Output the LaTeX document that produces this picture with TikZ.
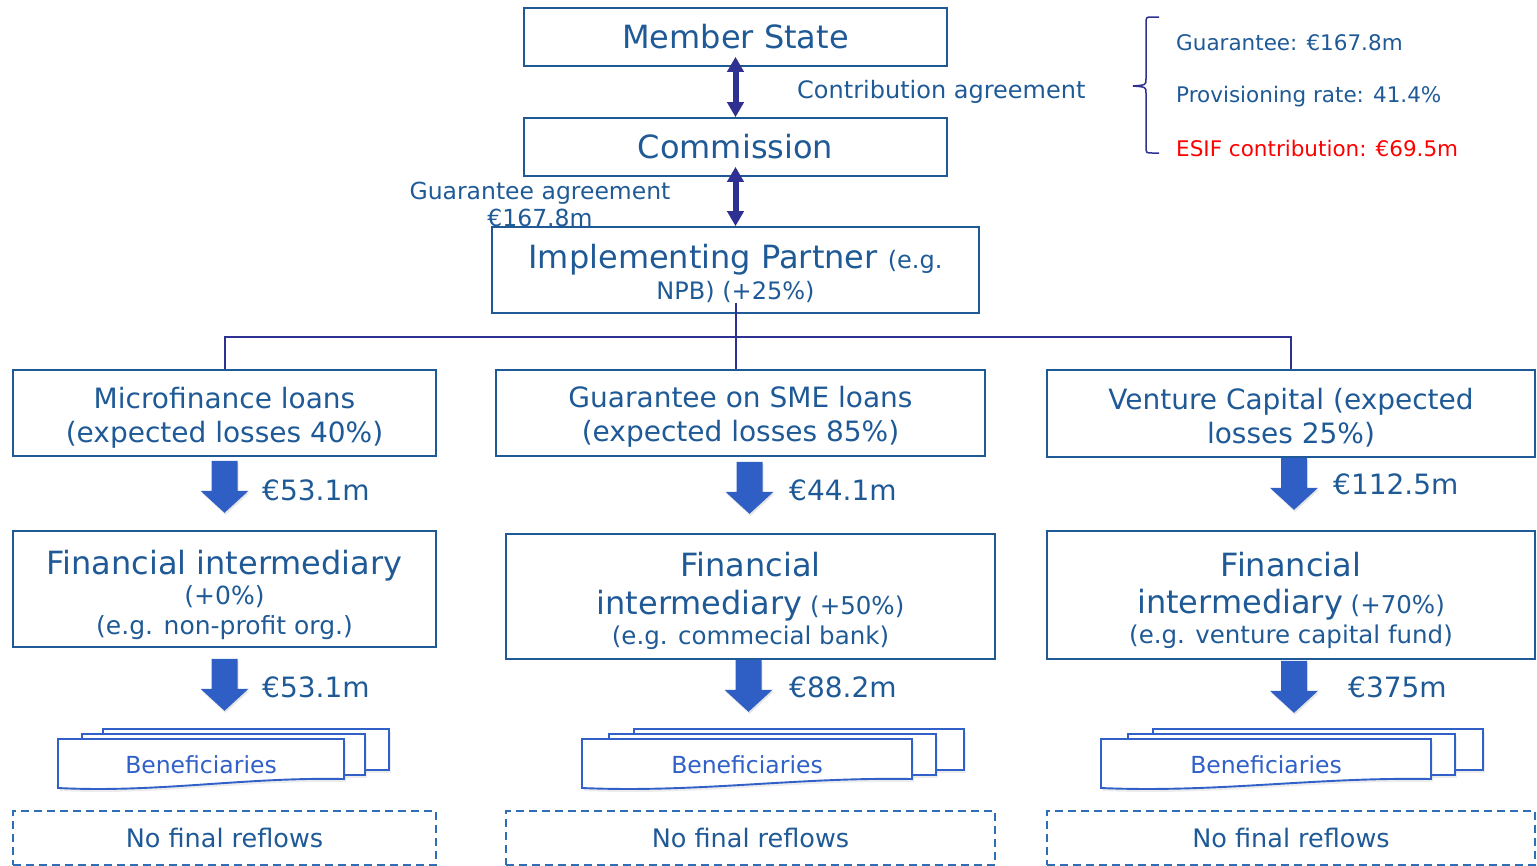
\documentclass[tikz,border=0pt]{standalone}
\usepackage{fontspec}
\setmainfont{DejaVu Sans}
\usetikzlibrary{arrows.meta,calc,shadows}

\definecolor{txtblue}{RGB}{31,90,150}
\definecolor{linkpurple}{RGB}{46,49,146}
\definecolor{flowblue}{RGB}{47,94,196}
\definecolor{docblue}{RGB}{48,96,200}
\definecolor{dashblue}{RGB}{46,110,180}

\newcommand{\fsz}[2]{\fontsize{#1}{#2}\selectfont}
\newcommand{\lift}[1]{\rule{0pt}{#1pt}}
\newcommand{\flowarrow}[1]{\fill[flowblue, drop shadow={opacity=0.2, shadow xshift=1pt, shadow yshift=-2pt}] (#1) -- ++(13,0) -- ++(0,30) -- ++(11,0) -- ++(-24,22) -- ++(-24,-22) -- ++(11,0) -- ++(0,-30) -- cycle;}
\newcommand{\docstack}[5]{%
\filldraw[docblue, fill=white, line width=1.9pt, drop shadow={opacity=0.15, shadow xshift=2pt, shadow yshift=-3pt}] (#1+#4,729) rectangle ++(#2,41);
\filldraw[docblue, fill=white, line width=1.9pt, drop shadow={opacity=0.15, shadow xshift=2pt, shadow yshift=-3pt}] (#1+#3,734) rectangle ++(#2-3,41);
\filldraw[docblue, fill=white, line width=1.9pt, drop shadow={opacity=0.15, shadow xshift=2pt, shadow yshift=-3pt}] (#1,739) -- (#1+#2,739) -- (#1+#2,779) .. controls (#1+0.65*#2,777) and (#1+0.35*#2,793) .. (#1,788) -- cycle;
\node[text=docblue, font=\fsz{23.5}{28}] (#5) at (#1+0.5*#2,765) {Beneficiaries};}

\begin{document}
\begin{tikzpicture}[x=1pt, y=-1pt, inner sep=0pt, text=txtblue,
  box/.style={draw=txtblue, line width=1.6pt, align=center},
  dbl/.style={linkpurple, line width=6pt, {Triangle[length=15pt,width=16pt]}-{Triangle[length=15pt,width=16pt]}},
  nofl/.style={draw=dashblue, line width=1.6pt, dash pattern=on 8pt off 5pt, minimum height=54pt, font=\fsz{25.5}{29}},
  amount/.style={anchor=west, font=\fsz{28}{32}}]
\useasboundingbox (0,0) rectangle (1537,865);

\node[box, minimum width=423pt, minimum height=58pt, font=\fsz{32}{38}] (ms) at (735.5,37) {Member State};
\node[box, minimum width=423pt, minimum height=58pt, font=\fsz{32}{38}] (com) at (735.5,147) {Commission};
\node[box, minimum width=487pt, minimum height=86pt, font=\fsz{32}{34}] (ip) at (735.5,270) {\lift{31}Implementing Partner {\fsz{24}{34}(e.g.}\\[-3pt]{\fsz{24}{34}NPB) (+25\%)}};
\draw[dbl] ([yshift=10pt]ms.south) -- (com.north);
\draw[dbl] ([yshift=10pt]com.south) -- (ip.north);
\node[anchor=west, font=\fsz{24}{29}] (ca) at (797,92) {Contribution agreement};
\node[align=center, font=\fsz{23.5}{27}] (ga) at (540,204) {Guarantee agreement\\€167.8m};

\draw[linkpurple, line width=1.5pt] (1159,17) -- (1152,17) .. controls (1146,17) .. (1146,24) -- (1146,79) .. controls (1146,85) .. (1133,86) .. controls (1146,87) .. (1146,93) -- (1146,146) .. controls (1146,153) .. (1152,153) -- (1159,153);
\node[anchor=west, font=\fsz{21.5}{26}] (g1) at (1176,43) {Guarantee: €167.8m};
\node[anchor=west, font=\fsz{21.5}{26}] (g2) at (1176,97) {Provisioning rate: 41.4\%};
\node[anchor=west, font=\fsz{21.5}{26}, text=red] (g3) at (1176,148) {ESIF contribution: €69.5m};

\node[box, minimum width=423pt, minimum height=86pt, font=\fsz{28}{34}] (mf) at (224.5,413) {\lift{30}Microfinance loans\\(expected losses 40\%)};
\node[box, minimum width=489pt, minimum height=86pt, font=\fsz{28}{34}] (sme) at (740.5,413) {\lift{29}Guarantee on SME loans\\(expected losses 85\%)};
\node[box, minimum width=488pt, minimum height=87pt, font=\fsz{28}{34}] (vc) at (1291,413.5) {\lift{29}Venture Capital (expected\\losses 25\%)};
\draw[linkpurple, line width=2pt] ($(ip.south)+(0,-11)$) -- (ip.south |- sme.north);
\draw[linkpurple, line width=2pt] (mf.north) -- ++(0,-32) -| (vc.north);

\flowarrow{$(mf.south)+(0,4)$}
\flowarrow{$(sme.south)+(9,5)$}
\flowarrow{$(vc.south)+(3,0)$}
\node[amount] (v1) at (262,490) {€53.1m};
\node[amount] (v2) at (789,490) {€44.1m};
\node[amount] (v3) at (1333,484) {€112.5m};

\node[box, minimum width=423pt, minimum height=116pt, font=\fsz{25}{30}] (fi1) at (224.5,589) {\lift{36}{\fsz{32}{33}Financial intermediary}\\(+0\%)\\(e.g. non-profit org.)};
\node[box, minimum width=489pt, minimum height=125pt, font=\fsz{24.5}{30}] (fi2) at (750.5,596.5) {\lift{33}{\fsz{32}{33}Financial}\\[8pt]{\fsz{32}{33}intermediary} (+50\%)\\(e.g. commecial bank)};
\node[box, minimum width=488pt, minimum height=128pt, font=\fsz{24.5}{30}] (fi3) at (1291,595) {\lift{36}{\fsz{32}{33}Financial}\\[7pt]{\fsz{32}{33}intermediary} (+70\%)\\(e.g. venture capital fund)};

\flowarrow{$(fi1.south)+(0,11)$}
\flowarrow{$(fi2.south)+(-2,0)$}
\flowarrow{$(fi3.south)+(3,1)$}
\node[amount] (w1) at (262,687) {€53.1m};
\node[amount] (w2) at (789,687) {€88.2m};
\node[amount] (w3) at (1348,687) {€375m};

\docstack{58}{286}{24}{45}{ben1}
\docstack{582}{330}{27}{52}{ben2}
\docstack{1101}{330}{27}{52}{ben3}

\node[nofl, minimum width=423pt] (nr1) at (224.5,838) {No final reflows};
\node[nofl, minimum width=489pt] (nr2) at (750.5,838) {No final reflows};
\node[nofl, minimum width=488pt] (nr3) at (1291,838) {No final reflows};
\end{tikzpicture}
\end{document}
